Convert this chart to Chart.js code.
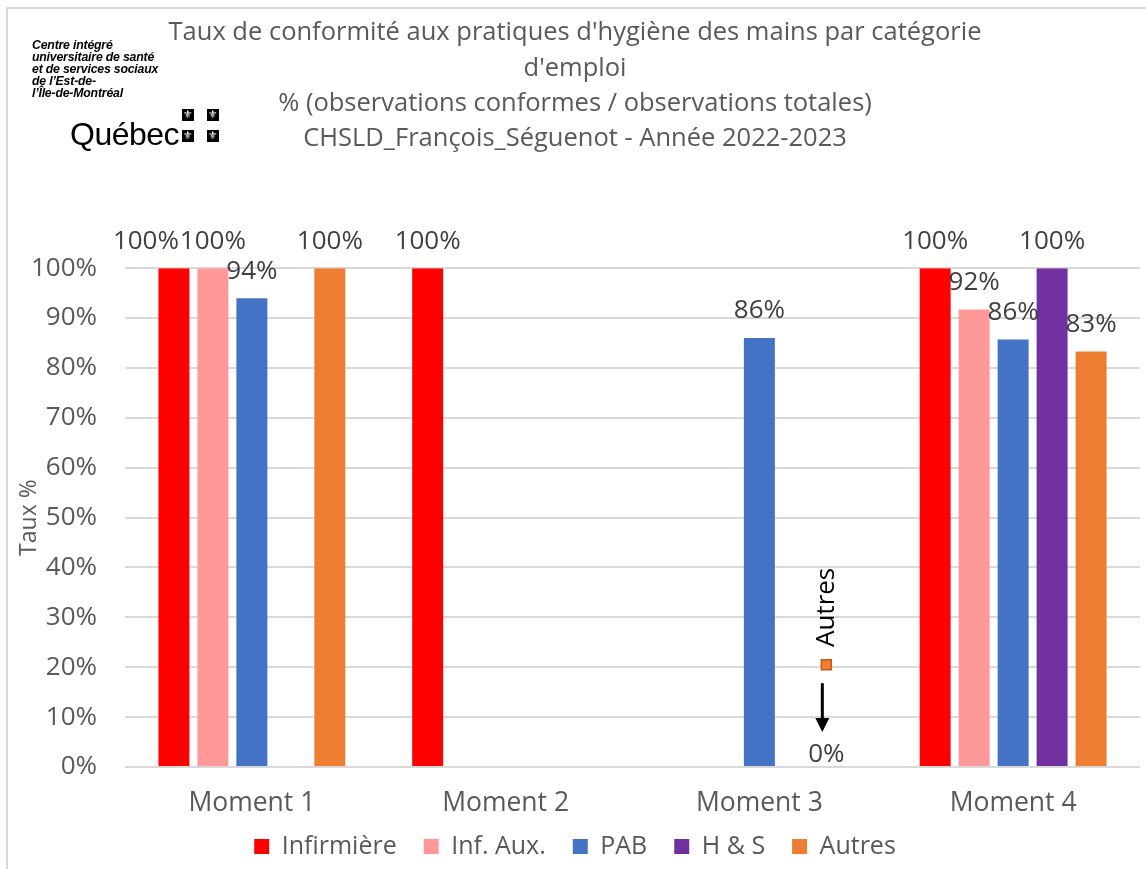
<!DOCTYPE html>
<html>
<head>
<meta charset="utf-8">
<script src="https://cdn.jsdelivr.net/npm/chart.js@4.4.0/dist/chart.umd.min.js"></script>
<style>
    html, body { margin: 0; padding: 0; background: #fff; }
    #wrap { position: relative; width: 1146px; height: 869px; overflow: hidden; }
    #frame { position: absolute; left: 6px; top: 7px; width: 1160px; height: 880px; border: 2px solid #d9d9d9; box-sizing: border-box; }
    canvas { position: absolute; left: 0; top: 0; }
    .org { position: absolute; left: 32px; top: 39px; font: italic bold 12.3px "Liberation Sans", Arial, sans-serif; line-height: 12px; color: #000; letter-spacing: -0.2px; }
    .qc { position: absolute; left: 70px; top: 118px; font: 32px "Liberation Sans", Arial, sans-serif; line-height: 32px; color: #000; letter-spacing: -0.5px; }
    .fl { position: absolute; width: 12px; height: 12px; background: #000; color: #fff; font: 11px "DejaVu Sans"; line-height: 12px; text-align: center; overflow: hidden; }
</style>
</head>
<body>
<div id="wrap">
    <div id="frame"></div>
    <canvas id="chart" width="1146" height="869"></canvas>
    <div class="org">Centre intégré<br>universitaire de santé<br>et de services sociaux<br>de l’Est-de-<br>l’Île-de-Montréal</div>
    <div class="qc">Québec</div>
    <div class="fl" style="left:182px;top:109px">⚜</div>
    <div class="fl" style="left:207px;top:109px">⚜</div>
    <div class="fl" style="left:182px;top:130px">⚜</div>
    <div class="fl" style="left:207px;top:130px">⚜</div>
</div>
<script>
// Data
const moments = ['Moment 1', 'Moment 2', 'Moment 3', 'Moment 4'];
const infirmiere = [100, 100, null, 100];
const infAux = [100, null, null, 91.7];
const pab = [94, null, 86, 85.7];
const hs = [null, null, null, 100];
const autres = [100, null, 0, 83.3];

const titleLines = [
    "Taux de conformité aux pratiques d'hygiène des mains par catégorie",
    "d'emploi",
    "% (observations conformes / observations totales)",
    "CHSLD_François_Séguenot - Année 2022-2023"
];

// note drawn above the 0% "Autres" bar of Moment 3
const noteIndex = 2;
const noteMarker = 20.5;
const noteLabel = 32;
const noteArrowFrom = 16.8;
const noteArrowTo = 7;

// hand-moved labels in the original (dataset-index: dx)
const labelNudge = { '0-0': -28, '4-2': -11 };

const FONT = 'Open Sans';
const GREY = '#595959';

const valueLabels = {
    id: 'valueLabels',
    afterDatasetsDraw(chart) {
        const ctx = chart.ctx;
        ctx.save();
        ctx.font = `26px "${FONT}"`;
        ctx.fillStyle = '#404040';
        ctx.textAlign = 'center';
        ctx.textBaseline = 'middle';
        chart.data.datasets.forEach((ds, i) => {
            chart.getDatasetMeta(i).data.forEach((bar, j) => {
                const v = ds.data[j];
                if (v === null || v === undefined) return;
                const dx = labelNudge[i + '-' + j] || 0;
                ctx.fillText(Math.round(v) + '%', bar.x + dx, bar.y - (v === 0 ? 12 : 27));
            });
        });
        ctx.restore();
    }
};

const autresNote = {
    id: 'autresNote',
    afterDatasetsDraw(chart) {
        const ctx = chart.ctx;
        const bar = chart.getDatasetMeta(4).data[noteIndex];
        const y = chart.scales.y;
        const x = bar.x + (labelNudge['4-' + noteIndex] || 0);
        ctx.save();
        // marker
        const my = y.getPixelForValue(noteMarker);
        ctx.fillStyle = '#ed7d31';
        ctx.strokeStyle = '#c55a11';
        ctx.lineWidth = 1.5;
        ctx.fillRect(x - 5, my - 5, 10, 10);
        ctx.strokeRect(x - 5, my - 5, 10, 10);
        // rotated label
        ctx.translate(x, y.getPixelForValue(noteLabel));
        ctx.rotate(-Math.PI / 2);
        ctx.font = `26px "${FONT}"`;
        ctx.fillStyle = '#000';
        ctx.textAlign = 'center';
        ctx.textBaseline = 'middle';
        ctx.fillText('Autres', 0, 0);
        ctx.setTransform(1, 0, 0, 1, 0, 0);
        // arrow
        const y1 = y.getPixelForValue(noteArrowFrom);
        const y2 = y.getPixelForValue(noteArrowTo);
        ctx.strokeStyle = '#000';
        ctx.lineWidth = 3;
        ctx.beginPath();
        ctx.moveTo(x - 4, y1);
        ctx.lineTo(x - 4, y2 - 12);
        ctx.stroke();
        ctx.fillStyle = '#000';
        ctx.beginPath();
        ctx.moveTo(x - 11, y2 - 14);
        ctx.lineTo(x + 3, y2 - 14);
        ctx.lineTo(x - 4, y2);
        ctx.closePath();
        ctx.fill();
        ctx.restore();
    }
};

new Chart(document.getElementById('chart'), {
    type: 'bar',
    data: {
        labels: moments,
        datasets: [
            { label: 'Infirmière', data: infirmiere, backgroundColor: '#ff0000' },
            { label: 'Inf. Aux.', data: infAux, backgroundColor: '#ff9999' },
            { label: 'PAB', data: pab, backgroundColor: '#4472c4' },
            { label: 'H & S', data: hs, backgroundColor: '#7030a0' },
            { label: 'Autres', data: autres, backgroundColor: '#ed7d31' }
        ]
    },
    options: {
        responsive: false,
        animation: false,
        categoryPercentage: 0.768,
        barPercentage: 0.795,
        layout: { padding: { left: 10, right: 6, top: 0, bottom: 0 } },
        plugins: {
            title: {
                display: true,
                text: titleLines,
                color: GREY,
                font: { family: FONT, size: 25.5, weight: 'normal', lineHeight: '35.3px' },
                padding: { top: 15.5, bottom: 111.5 }
            },
            legend: {
                position: 'bottom',
                labels: {
                    boxWidth: 15,
                    boxHeight: 15,
                    padding: 14,
                    color: GREY,
                    font: { family: FONT, size: 25 },
                    // extra room between items without a taller legend box
                    generateLabels: chart => Chart.defaults.plugins.legend.labels.generateLabels(chart)
                        .map((item, i, all) => ({ ...item, text: i < all.length - 1 ? item.text + '  ' : item.text }))
                }
            },
            tooltip: { enabled: false }
        },
        scales: {
            x: {
                grid: { display: false, drawTicks: false },
                border: { display: false },
                ticks: { color: GREY, padding: 21, font: { family: FONT, size: 26.5 } },
                afterFit: s => { s.height = 53; }
            },
            y: {
                min: 0,
                max: 100,
                grid: { color: '#d9d9d9', lineWidth: 2, drawTicks: false },
                border: { display: false },
                ticks: {
                    stepSize: 10,
                    padding: 28,
                    color: GREY,
                    font: { family: FONT, size: 26 },
                    callback: v => v + '%'
                },
                title: {
                    display: true,
                    text: 'Taux %',
                    color: GREY,
                    font: { family: FONT, size: 23 },
                    padding: { top: 6, bottom: 0 }
                },
                afterFit: s => { s.width = 115; }
            }
        }
    },
    plugins: [valueLabels, autresNote]
});
</script>
</body>
</html>
